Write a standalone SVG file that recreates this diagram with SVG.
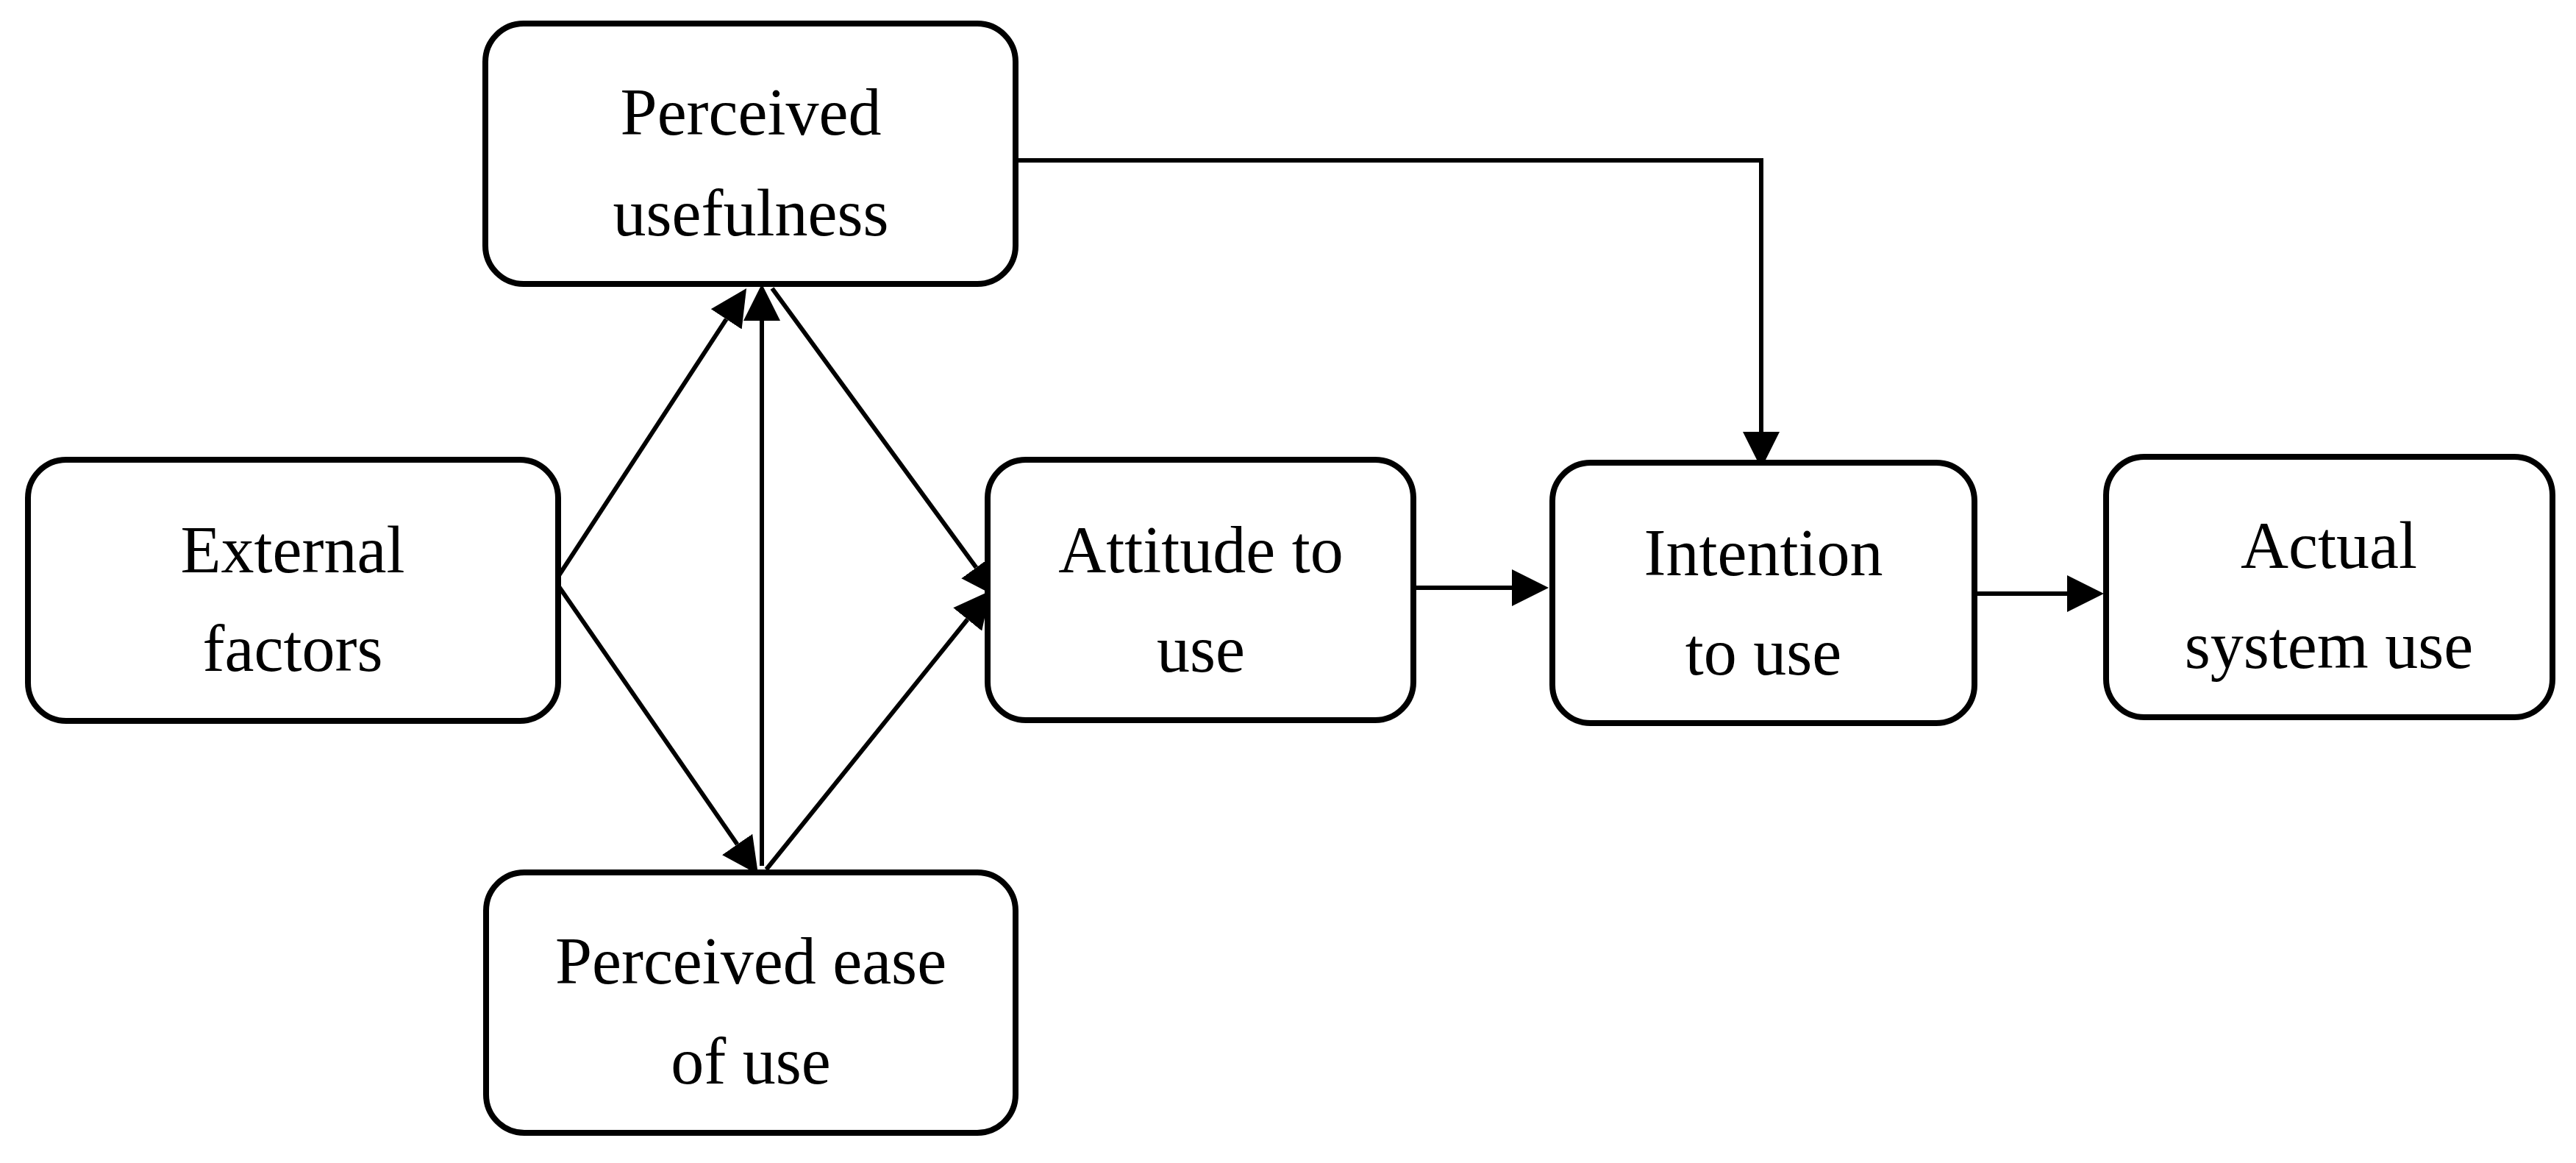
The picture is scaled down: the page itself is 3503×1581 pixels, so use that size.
<svg xmlns="http://www.w3.org/2000/svg" width="3503" height="1581" viewBox="0 0 3503 1581">
<style>
.box{fill:#fff;stroke:#000;stroke-width:8}
.lbl{font-family:"Liberation Serif","Times New Roman",serif;font-size:90px;fill:#000;text-anchor:middle}
.con{fill:none;stroke:#000;stroke-width:6}
</style>
<defs>
<marker id="ah" markerUnits="userSpaceOnUse" markerWidth="50" markerHeight="50" refX="0" refY="25" orient="auto" viewBox="0 0 50 50">
<path d="M0,0 L50,25 L0,50 Z" fill="#000"/>
</marker>
</defs>
<rect width="3503" height="1581" fill="#fff"/>
<g id="connectors">
<line class="con" x1="755" y1="790" x2="987.7" y2="433.9" marker-end="url(#ah)"/>
<line class="con" x1="757" y1="793" x2="1002.6" y2="1147.9" marker-end="url(#ah)"/>
<line class="con" x1="1036" y1="1177" x2="1036" y2="436" marker-end="url(#ah)"/>
<line class="con" x1="1050" y1="392" x2="1327.5" y2="771.6" marker-end="url(#ah)"/>
<line class="con" x1="1042" y1="1182" x2="1315.7" y2="842" marker-end="url(#ah)"/>
<line class="con" x1="1922" y1="799" x2="2056" y2="799" marker-end="url(#ah)"/>
<line class="con" x1="2685" y1="807" x2="2811" y2="807" marker-end="url(#ah)"/>
<polyline class="con" points="1381,218 2395,218 2395,587" marker-end="url(#ah)"/>
</g>
<g id="external">
<rect class="box" x="38" y="625" width="721" height="355" rx="52" ry="52"/>
<text class="lbl" x="398" y="778">External</text>
<text class="lbl" x="398" y="912">factors</text>
</g>
<g id="usefulness">
<rect class="box" x="660" y="32" width="721" height="354" rx="52" ry="52"/>
<text class="lbl" x="1021" y="183">Perceived</text>
<text class="lbl" x="1021" y="320">usefulness</text>
</g>
<g id="ease">
<rect class="box" x="661" y="1186" width="720" height="354" rx="52" ry="52"/>
<text class="lbl" x="1021" y="1337">Perceived ease</text>
<text class="lbl" x="1021" y="1473">of use</text>
</g>
<g id="attitude">
<rect class="box" x="1343" y="625" width="579" height="354" rx="52" ry="52"/>
<text class="lbl" x="1633" y="778">Attitude to</text>
<text class="lbl" x="1633" y="913">use</text>
</g>
<g id="intention">
<rect class="box" x="2111" y="629" width="574" height="354" rx="52" ry="52"/>
<text class="lbl" x="2398" y="782">Intention</text>
<text class="lbl" x="2398" y="917">to use</text>
</g>
<g id="actual">
<rect class="box" x="2864" y="621" width="607" height="354" rx="52" ry="52"/>
<text class="lbl" x="3167" y="772">Actual</text>
<text class="lbl" x="3167" y="908">system use</text>
</g>
</svg>
